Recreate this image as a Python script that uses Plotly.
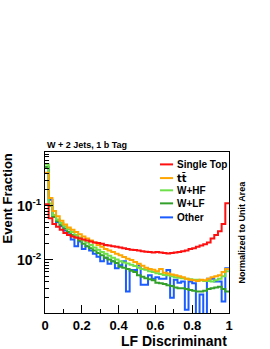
import plotly.graph_objects as go

# bin edges: 50 bins from 0 to 1
n_bins = 50
bin_lo = [i / n_bins for i in range(n_bins)]

single_top = [0.107, 0.059, 0.046, 0.041, 0.036, 0.0315, 0.029, 0.027, 0.026, 0.025,
              0.024, 0.023, 0.022, 0.021, 0.0205, 0.020, 0.019, 0.0185, 0.018, 0.0175,
              0.017, 0.0165, 0.016, 0.0155, 0.0152, 0.015, 0.0145, 0.0142, 0.014, 0.0138,
              0.014, 0.0137, 0.0134, 0.0132, 0.0135, 0.0137, 0.014, 0.0145, 0.015, 0.016,
              0.0165, 0.0175, 0.0185, 0.0195, 0.021, 0.025, 0.029, 0.034, 0.046, 0.112]
ttbar = [0.41, 0.14, 0.08, 0.064, 0.053, 0.045, 0.04, 0.036, 0.033, 0.030,
         0.027, 0.025, 0.023, 0.021, 0.019, 0.0175, 0.016, 0.015, 0.014, 0.013,
         0.0122, 0.0113, 0.0105, 0.010, 0.0092, 0.0085, 0.0078, 0.0072, 0.0068, 0.0066,
         0.0062, 0.0068, 0.0058, 0.0056, 0.0054, 0.0052, 0.005, 0.0048, 0.0045, 0.0043,
         0.0042, 0.0041, 0.0043, 0.0042, 0.0045, 0.0048, 0.005, 0.0052, 0.006, 0.0068]
w_hf = [0.58, 0.11, 0.068, 0.056, 0.048, 0.042, 0.037, 0.033, 0.029, 0.026,
        0.023, 0.021, 0.019, 0.017, 0.0155, 0.014, 0.013, 0.012, 0.011, 0.0102,
        0.0095, 0.009, 0.0086, 0.0082, 0.0077, 0.0072, 0.0068, 0.0066, 0.0062, 0.006,
        0.0057, 0.0055, 0.0053, 0.0052, 0.005, 0.0048, 0.0047, 0.0046, 0.0045, 0.0044,
        0.0043, 0.0043, 0.0042, 0.0041, 0.0041, 0.004, 0.0042, 0.0045, 0.005, 0.0062]
w_lf = [0.52, 0.10, 0.062, 0.052, 0.044, 0.038, 0.033, 0.029, 0.026, 0.023,
        0.020, 0.018, 0.0165, 0.015, 0.0135, 0.0122, 0.011, 0.0102, 0.0095, 0.0088,
        0.0075, 0.0072, 0.0068, 0.0063, 0.006, 0.0052, 0.0049, 0.0046, 0.0044, 0.0042,
        0.0038, 0.0037, 0.0036, 0.0034, 0.0033, 0.0031, 0.003, 0.003, 0.0029, 0.0028,
        0.0027, 0.0026, 0.0026, 0.0027, 0.0029, 0.003, 0.0031, 0.0032, 0.0029, 0.0026]
other = [0.50, 0.13, 0.065, 0.050, 0.042, 0.035, 0.030, 0.024, 0.018, 0.022,
         0.016, 0.018, 0.015, 0.013, 0.0115, 0.0095, 0.011, 0.0085, 0.0095, 0.007,
         0.008, 0.0095, 0.0026, 0.0065, 0.0065, 0.0079, 0.0035, 0.0035, 0.0052, 0.0045,
         0.0048, 0.0045, 0.0045, 0.0065, 0.002, 0.0043, 0.0038, 0.004, 0.0012, 0.004,
         0.0037, 0.0008, 0.0023, 0.0008, 0.0045, 0.0045, 0.004, 0.004, 0.0017, 0.007]

# drawing order (back to front) and legend row (top = 0)
series = [
    ("Other", other, "#1a5cff", 4),
    ("W+LF", w_lf, "#33a02c", 3),
    ("W+HF", w_hf, "#6ee04a", 2),
    ("t\u0074\u0304", ttbar, "#ffa500", 1),
    ("Single Top", single_top, "#ff1010", 0),
]

x_ticks = [0, 0.2, 0.4, 0.6, 0.8, 1]
x_tick_text = ["0", "0.2", "0.4", "0.6", "0.8", "1"]
y_ticks = [0.01, 0.1]
y_tick_text = ["10<sup>-2</sup>", "10<sup>-1</sup>"]

font_family = "Liberation Sans, Arial, sans-serif"

fig = go.Figure()
edges = bin_lo + [1.0]
shapes = []
annotations = []
leg_rows_y = [0.923, 0.838, 0.762, 0.681, 0.594]
for name, vals, color, row in series:
    fig.add_trace(go.Scatter(
        x=edges, y=list(vals) + [vals[-1]], mode="lines", name=name,
        line=dict(color=color, width=2, shape="hv"), showlegend=False,
    ))
    ly = leg_rows_y[row]
    shapes.append(dict(type="line", xref="paper", yref="paper",
                       x0=0.625, x1=0.696, y0=ly, y1=ly,
                       line=dict(color=color, width=2)))
    annotations.append(dict(text=name, x=0.707, y=ly, xref="paper", yref="paper",
                            xanchor="left", yanchor="middle", showarrow=False,
                            font=dict(family="DejaVu Sans, Liberation Sans" if row == 1 else font_family,
                                      size=10, color="black", weight="bold")))

annotations += [
    dict(text="W + 2 Jets, 1 b Tag", x=0, y=1.0, xref="paper", yref="paper",
         xanchor="left", yanchor="bottom", showarrow=False, yshift=0,
         font=dict(family=font_family, size=9, color="black", weight="bold")),
    dict(text="LF Discriminant", x=1, y=0, xref="paper", yref="paper",
         xanchor="right", yanchor="top", showarrow=False, yshift=-18,
         font=dict(family=font_family, size=14, color="black", weight="bold")),
    dict(text="Event Fraction", x=0, y=1, xref="paper", yref="paper",
         xanchor="right", yanchor="top", showarrow=False, xshift=-29, textangle=-90,
         font=dict(family=font_family, size=13, color="black", weight="bold")),
    dict(text="Normalized to Unit Area", x=1, y=0.5, xref="paper", yref="paper",
         xanchor="left", yanchor="middle", showarrow=False, xshift=5, textangle=-90,
         font=dict(family=font_family, size=9, color="black", weight="bold")),
]

fig.update_layout(
    width=270, height=349,
    margin=dict(l=45, r=41, t=152, b=36, autoexpand=False),
    paper_bgcolor="white", plot_bgcolor="white",
    showlegend=False,
    shapes=shapes,
    annotations=annotations,
    xaxis=dict(range=[0, 1], tickvals=x_ticks, ticktext=x_tick_text, automargin=False,
               ticks="inside", ticklen=8, tickcolor="black", tickwidth=1,
               showline=True, linecolor="black", linewidth=1, mirror=True,
               showgrid=False, zeroline=False,
               tickfont=dict(family=font_family, size=13, color="black", weight="bold"),
               minor=dict(dtick=0.1, ticks="inside", ticklen=4, tickcolor="black")),
    yaxis=dict(type="log", range=[-2.98, -0.005], tickvals=y_ticks, ticktext=y_tick_text,
               automargin=False,
               ticks="inside", ticklen=8, tickcolor="black", tickwidth=1,
               showline=True, linecolor="black", linewidth=1, mirror=True,
               showgrid=False, zeroline=False,
               tickfont=dict(family=font_family, size=14, color="black", weight="bold"),
               minor=dict(tickvals=[0.002, 0.003, 0.004, 0.005, 0.006, 0.007, 0.008, 0.009,
                                    0.02, 0.03, 0.04, 0.05, 0.06, 0.07, 0.08, 0.09,
                                    0.2, 0.3, 0.4, 0.5, 0.6, 0.7, 0.8, 0.9],
                          ticks="inside", ticklen=4, tickcolor="black")),
)

fig.write_html("out.html", config={"displayModeBar": False, "staticPlot": True},
               post_script="document.body.style.margin='0px';document.body.style.overflow='hidden';")
